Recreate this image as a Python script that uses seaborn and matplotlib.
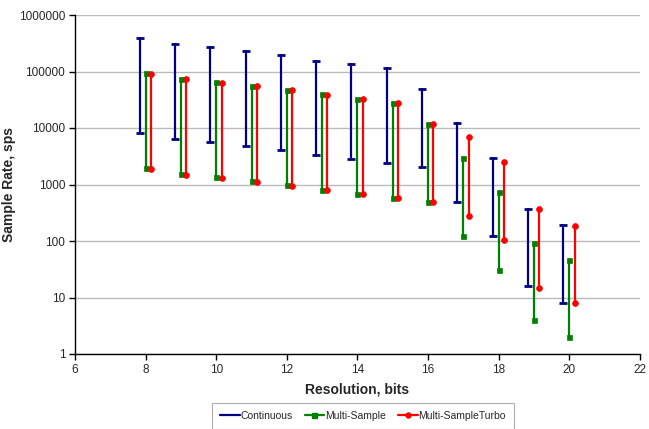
import matplotlib
matplotlib.use("Agg")
import matplotlib.pyplot as plt
from matplotlib.lines import Line2D
import seaborn as sns
import pandas as pd
import numpy as np

bits = [8, 9, 10, 11, 12, 13, 14, 15, 16, 17, 18, 19, 20]

cont_high = [390000, 310000, 272000, 230000, 195000, 155000, 135000, 117000, 49000, 12300, 3000, 370, 190]
cont_low = [8100, 6400, 5600, 4800, 4050, 3300, 2800, 2400, 2030, 500, 124, 16, 8]

ms_high = [93000, 74000, 64500, 56500, 47000, 39500, 33000, 28000, 12000, 3000, 750, 92, 46]
ms_low = [1930, 1540, 1350, 1160, 975, 805, 675, 580, 495, 124, 31, 4, 2]

turbo_high = [90000, 72500, 63500, 55000, 46500, 38500, 32800, 27800, 11800, 6800, 2530, 365, 185]
turbo_low = [1850, 1500, 1300, 1130, 960, 795, 670, 580, 485, 280, 104, 15, 8]

series_names = ["Continuous", "Multi-Sample", "Multi-SampleTurbo"]
colors = ["#000080", "#008000", "#FF0000"]
markers = ["_", "s", "o"]
offsets = [-0.17, 0.0, 0.15]

sns.set_theme(style="white")
plt.rcParams["font.family"] = ["Liberation Sans", "DejaVu Sans"]

fig = plt.figure(figsize=(6.49, 4.29), dpi=100)
ax = fig.add_axes([75 / 649, 1 - 354 / 429, (640 - 75) / 649, (354 - 15) / 429])

highs = [cont_high, ms_high, turbo_high]
lows = [cont_low, ms_low, turbo_low]
msizes = [5.5, 3.6, 4.2]
for name, col, mk, off, hi, lo, ms in zip(series_names, colors, markers, offsets, highs, lows, msizes):
    df = pd.DataFrame({
        "bits": bits + bits,
        "x": [b + off for b in bits] * 2,
        "val": hi + lo,
    })
    sns.lineplot(data=df, x="x", y="val", units="bits", estimator=None, sort=False,
                 color=col, marker=mk, markersize=ms, markeredgewidth=(2 if mk == "_" else 0.5),
                 markeredgecolor=col, linewidth=1.6, ax=ax, legend=False)

ax.set_yscale("log")
ax.set_ylim(1, 1000000)
ax.set_xlim(6, 22)
ax.set_xticks(range(6, 23, 2))
ax.set_yticks([1, 10, 100, 1000, 10000, 100000, 1000000])
ax.set_yticklabels(["1", "10", "100", "1000", "10000", "100000", "1000000"])
ax.yaxis.set_minor_locator(matplotlib.ticker.NullLocator())
ax.grid(True, axis="y", color="#BBBBBB", linewidth=1)
ax.set_axisbelow(True)
for s in ["top", "right"]:
    ax.spines[s].set_visible(False)
for s in ["left", "bottom"]:
    ax.spines[s].set_color("black")
    ax.spines[s].set_linewidth(1)
ax.tick_params(axis="both", which="major", direction="out", length=4, width=1,
               color="black", labelsize=8.5, left=True, bottom=True, pad=3)
ax.set_xlabel("Resolution, bits", fontsize=10, fontweight="bold")
ax.set_ylabel("Sample Rate, sps", fontsize=10, fontweight="bold")
ax.yaxis.set_label_coords((16 - 75) / 565, 0.5)
ax.xaxis.set_label_coords(0.5, (354 - 383) / 339)

handles = [Line2D([], [], color=c, marker=(None if m == "_" else m), markersize=3.6, linewidth=1.6)
           for c, m in zip(colors, markers)]
leg = fig.legend(handles, series_names, loc="lower center", bbox_to_anchor=(363 / 649, -0.012),
                 ncol=3, fontsize=7.5, frameon=True, fancybox=False, handlelength=1.9,
                 handletextpad=0.1, columnspacing=1.1, borderpad=0.75, borderaxespad=0.5)
leg.get_frame().set_edgecolor("#999999")
leg.get_frame().set_linewidth(0.8)

fig.savefig("out.png", dpi=100)
